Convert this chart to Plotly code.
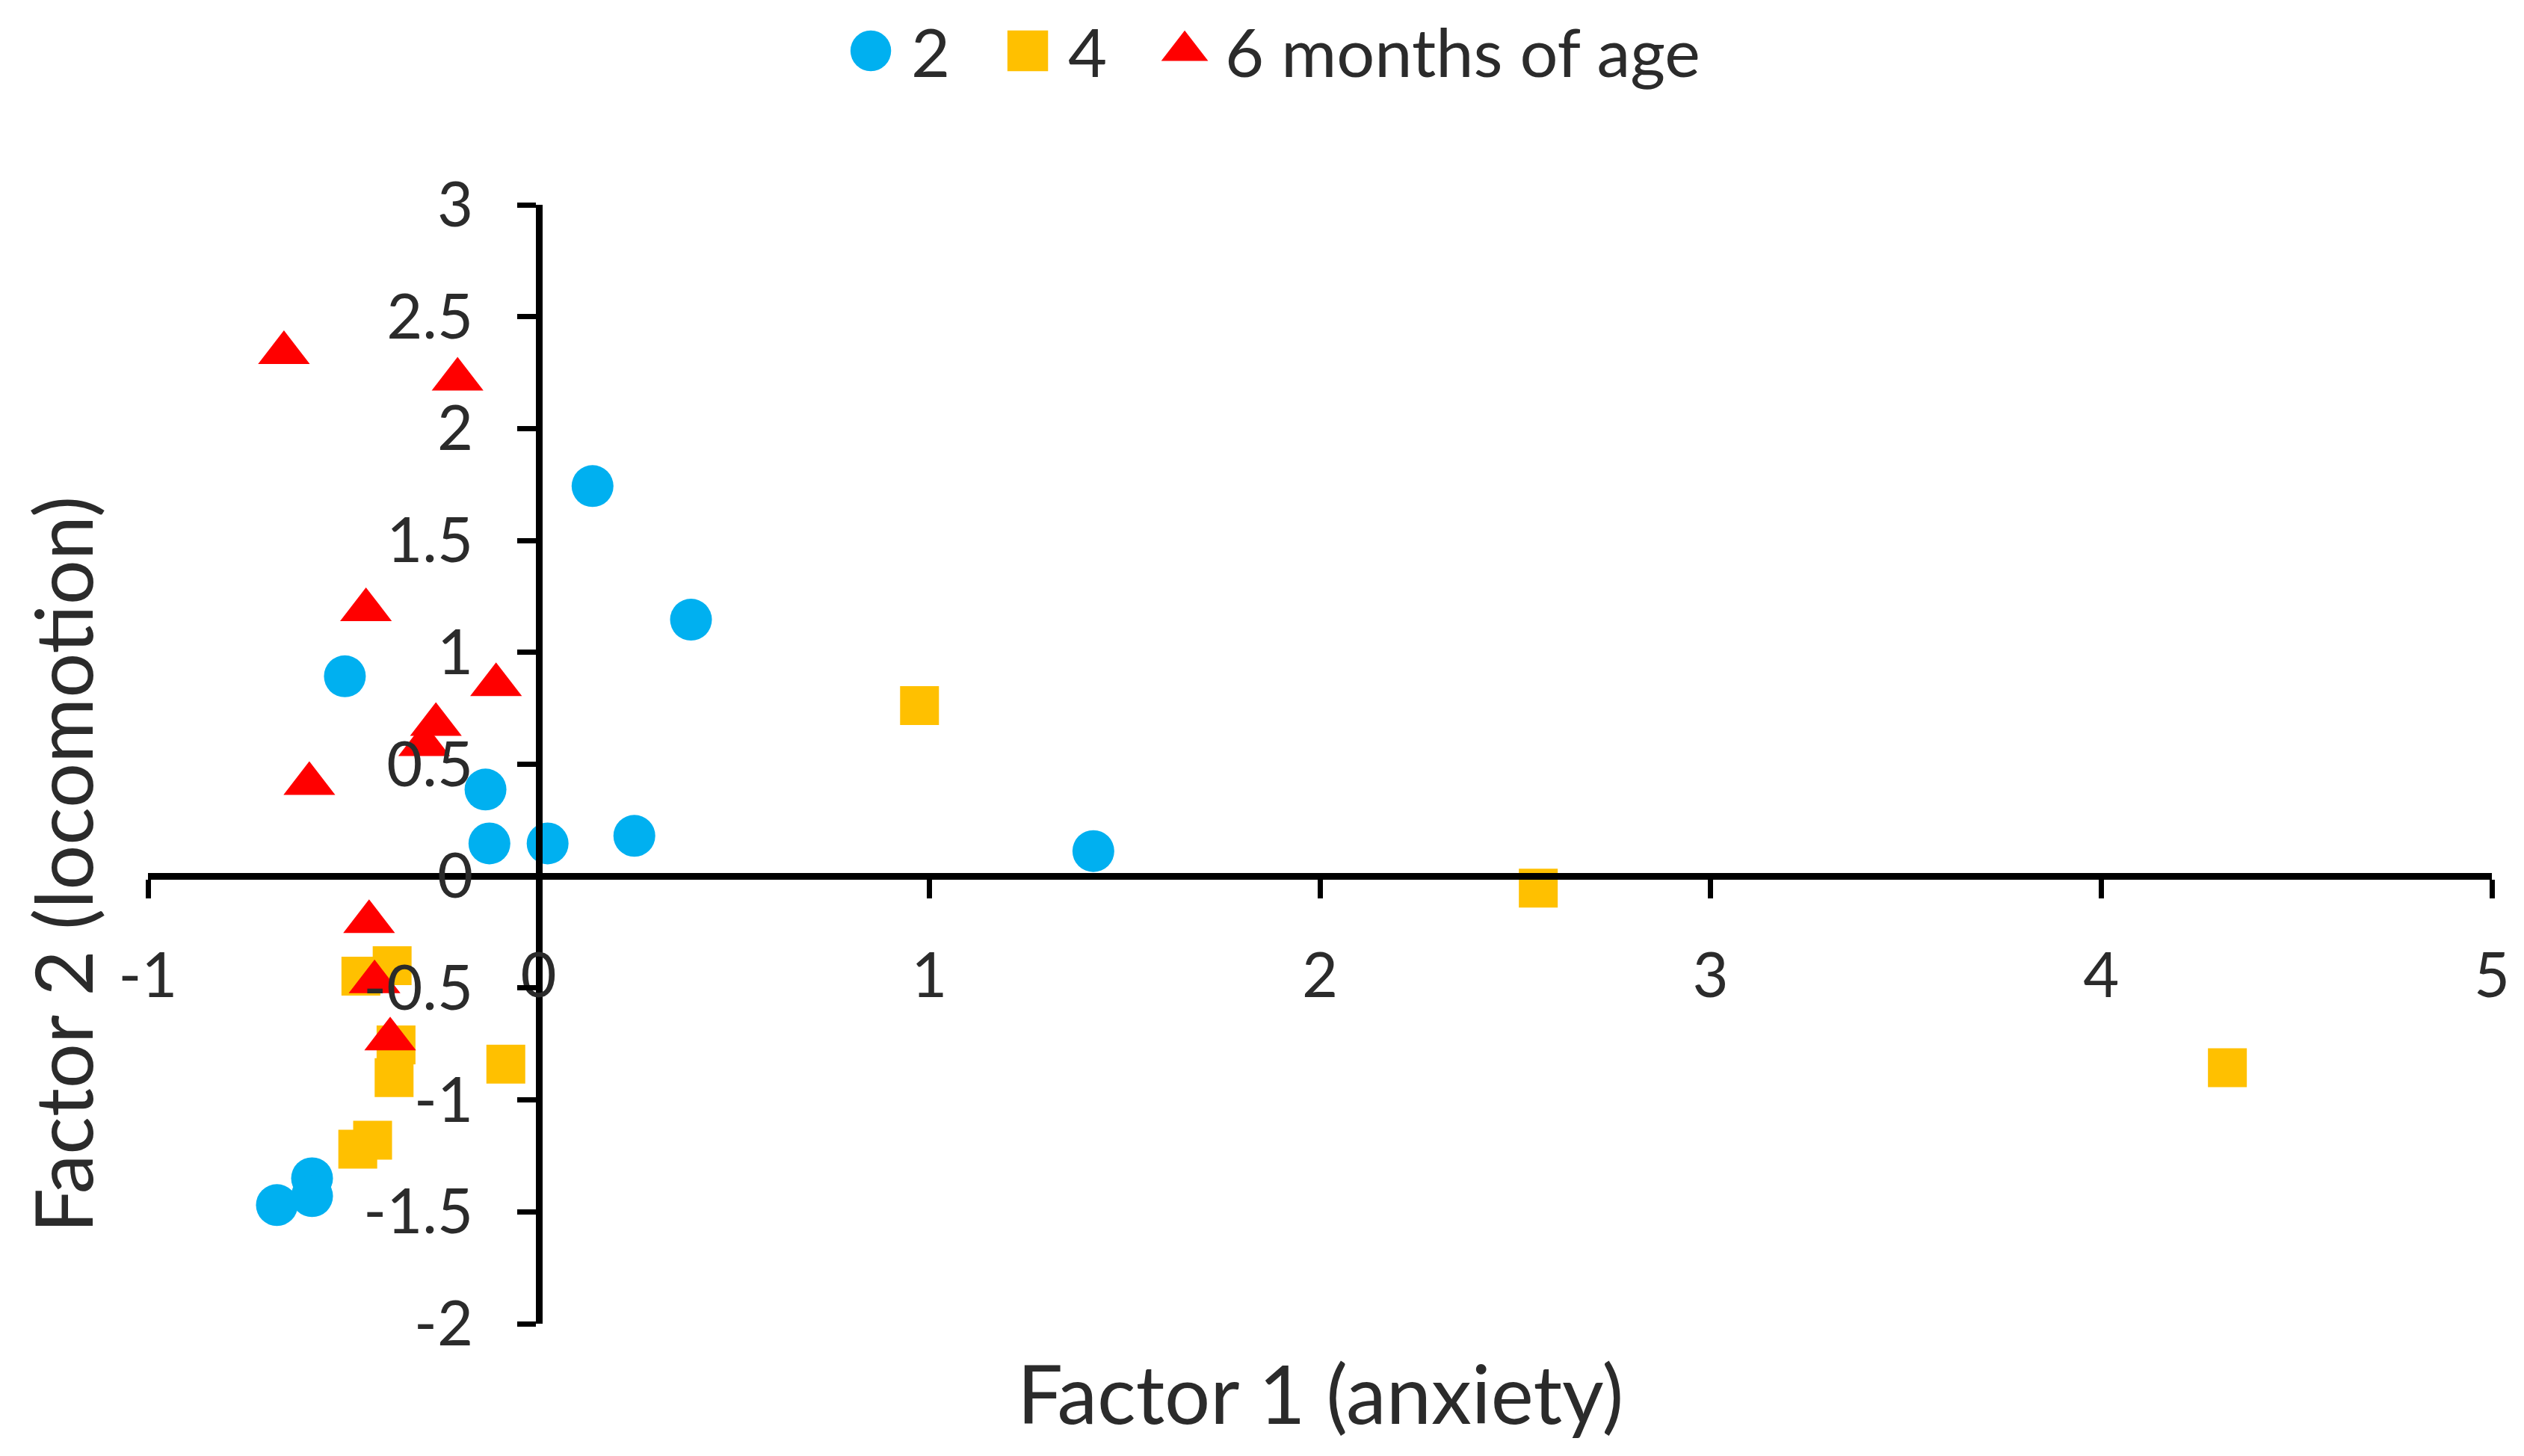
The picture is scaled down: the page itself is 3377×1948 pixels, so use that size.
import plotly.graph_objects as go

# ---- data ----
series_names = ["2", "4", "6 months of age"]

x_2m = [0.138, 0.39, -0.496, -0.136, -0.126, 0.023, 0.245, 1.42, -0.67, -0.58, -0.58]
y_2m = [1.743, 1.146, 0.893, 0.387, 0.146, 0.146, 0.18, 0.112, -1.47, -1.35, -1.43]

x_4m = [0.975, 2.559, 4.323, -0.084, -0.455, -0.375, -0.365, -0.37, -0.463, -0.425]
y_4m = [0.762, -0.054, -0.856, -0.84, -0.447, -0.40, -0.754, -0.90, -1.22, -1.18]

x_6m = [-0.652, -0.2075, -0.442, -0.109, -0.263, -0.293, -0.587, -0.434, -0.42, -0.38]
y_6m = [2.339, 2.22, 1.19, 0.855, 0.677, 0.587, 0.413, -0.204, -0.473, -0.728]

x_tick_vals = [-1, 0, 1, 2, 3, 4, 5]
x_tick_labels = ["-1", "0", "1", "2", "3", "4", "5"]
y_tick_vals = [3, 2.5, 2, 1.5, 1, 0.5, 0, -0.5, -1, -1.5, -2]
y_tick_labels = ["3", "2.5", "2", "1.5", "1", "0.5", "0", "-0.5", "-1", "-1.5", "-2"]

x_title = "Factor 1 (anxiety)"
y_title = "Factor 2 (locomotion)"

# ---- styling ----
W, H = 3369, 1940   # page body adds an 8px margin
FONT = "Lato"
TEXT = "#2b2b2b"
C_BLUE, C_ORANGE, C_RED = "#00B0F0", "#FFC000", "#FF0000"
x_range = [-1, 5]
y_range = [-2, 3]

fig = go.Figure()
fig.add_trace(go.Scatter(x=x_2m, y=y_2m, mode="markers", name=series_names[0],
                         marker=dict(symbol="circle", size=56, color=C_BLUE, line=dict(width=0))))
fig.add_trace(go.Scatter(x=x_4m, y=y_4m, mode="markers", name=series_names[1],
                         marker=dict(symbol="square", size=52, color=C_ORANGE, line=dict(width=0))))
fig.add_trace(go.Scatter(x=x_6m, y=y_6m, mode="markers", name=series_names[2],
                         marker=dict(symbol="triangle-up", size=60, color=C_RED, line=dict(width=0))))

# position of the crossing axes (x=0, y=0) as fractions of the plot area
ypos = (0 - x_range[0]) / (x_range[1] - x_range[0])
xpos = (0 - y_range[0]) / (y_range[1] - y_range[0])

fig.update_layout(
    width=W, height=H,
    margin=dict(l=190, r=43, t=266, b=177),
    paper_bgcolor="white", plot_bgcolor="white",
    font=dict(family=FONT, color=TEXT, size=83),
    showlegend=True,
    legend=dict(orientation="h", xref="container", yref="container",
                x=0.3476, xanchor="left", y=1 - 60 / H, yanchor="middle",
                font=dict(family=FONT, size=90, color=TEXT),
                entrywidth=165, bgcolor="rgba(0,0,0,0)"),
    xaxis=dict(range=x_range, anchor="free", position=xpos, side="bottom",
               showgrid=False, zeroline=False, showline=True, linecolor="black", linewidth=9,
               ticks="outside", ticklen=25, tickwidth=7, tickcolor="black",
               tickvals=x_tick_vals, ticktext=x_tick_labels, ticklabelstandoff=32,
               tickfont=dict(family=FONT, size=83, color=TEXT)),
    yaxis=dict(range=y_range, anchor="free", position=ypos, side="left",
               showgrid=False, zeroline=False, showline=True, linecolor="black", linewidth=9,
               ticks="outside", ticklen=25, tickwidth=7, tickcolor="black",
               tickvals=y_tick_vals, ticktext=y_tick_labels, ticklabelstandoff=42,
               tickfont=dict(family=FONT, size=83, color=TEXT)),
    annotations=[
        dict(text=x_title, xref="paper", yref="paper", x=0.5, y=-0.0615,
             xanchor="center", yanchor="middle", showarrow=False,
             font=dict(family=FONT, size=108, color=TEXT)),
        dict(text=y_title, xref="paper", yref="paper", x=-0.0365, y=0.41,
             xanchor="center", yanchor="middle", showarrow=False, textangle=-90,
             font=dict(family=FONT, size=106, color=TEXT)),
    ],
)

post = """
document.querySelectorAll('.legend .scrollbox').forEach(function(e){e.removeAttribute('clip-path');});
document.querySelectorAll('.legend .legendpoints path.scatterpts').forEach(function(p){
  p.setAttribute('transform','translate(-14,0) scale(3.4)');
});
"""
fig.write_html("out.html", post_script=post)
